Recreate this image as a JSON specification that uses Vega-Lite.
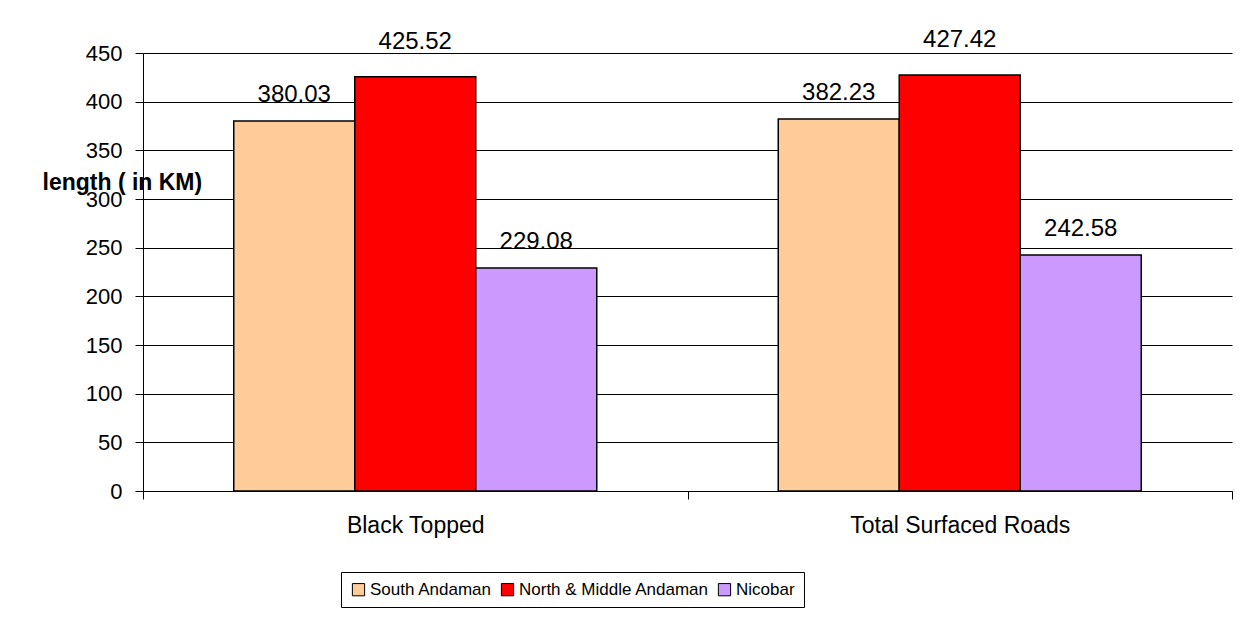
{
  "$schema": "https://vega.github.io/schema/vega-lite/v6.json",
  "width": 1089,
  "height": 438,
  "autosize": "none",
  "padding": {"left": 143, "top": 53, "right": 23, "bottom": 130},
  "background": "white",
  "config": {
    "font": "Liberation Sans",
    "view": {"stroke": null}
  },
  "data": {
    "values": [
      {"category": "Black Topped", "region": "South Andaman", "value": 380.03},
      {"category": "Black Topped", "region": "North & Middle Andaman", "value": 425.52},
      {"category": "Black Topped", "region": "Nicobar", "value": 229.08},
      {"category": "Total Surfaced Roads", "region": "South Andaman", "value": 382.23},
      {"category": "Total Surfaced Roads", "region": "North & Middle Andaman", "value": 427.42},
      {"category": "Total Surfaced Roads", "region": "Nicobar", "value": 242.58}
    ]
  },
  "encoding": {
    "x": {
      "field": "category",
      "type": "nominal",
      "sort": null,
      "scale": {"paddingInner": 0, "paddingOuter": 0},
      "axis": {
        "title": null,
        "labelAngle": 0,
        "labelLimit": 0,
        "tickBand": "extent",
        "domainColor": "black",
        "tickColor": "black",
        "tickSize": 8,
        "labelFontSize": 23,
        "labelColor": "black",
        "labelPadding": 15
      }
    },
    "xOffset": {
      "field": "region",
      "type": "nominal",
      "sort": ["South Andaman", "North & Middle Andaman", "Nicobar"],
      "scale": {"paddingOuter": 0.75, "paddingInner": 0}
    },
    "y": {
      "field": "value",
      "type": "quantitative",
      "scale": {"domain": [0, 450]},
      "axis": {
        "values": [0, 50, 100, 150, 200, 250, 300, 350, 400, 450],
        "title": "length ( in KM)",
        "titleAngle": 0,
        "titleFontWeight": "bold",
        "titleFontSize": 23,
        "titleAlign": "left",
        "titleBaseline": "alphabetic",
        "titleX": -101,
        "titleY": 136,
        "titleColor": "black",
        "grid": true,
        "gridColor": "black",
        "gridOpacity": 1,
        "domainColor": "black",
        "tickColor": "black",
        "tickSize": 8,
        "labelFontSize": 22,
        "labelColor": "black",
        "labelPadding": 13
      }
    }
  },
  "layer": [
    {
      "mark": {"type": "bar", "stroke": "black", "strokeWidth": 1.5},
      "encoding": {
        "color": {
          "field": "region",
          "type": "nominal",
          "scale": {
            "domain": ["South Andaman", "North & Middle Andaman", "Nicobar"],
            "range": ["#FFCC99", "#FF0000", "#CC99FF"]
          },
          "legend": {
            "title": null,
            "orient": "none",
            "direction": "horizontal",
            "legendX": 198,
            "legendY": 519,
            "strokeColor": "black",
            "padding": 9,
            "symbolType": "square",
            "symbolSize": 150,
            "symbolStrokeColor": "black",
            "symbolStrokeWidth": 1,
            "symbolOpacity": 1,
            "labelFontSize": 17,
            "labelLimit": 0,
            "labelColor": "black",
            "columnPadding": 7,
            "labelOffset": 3
          }
        }
      }
    },
    {
      "transform": [{"filter": "datum.region !== 'North & Middle Andaman'"}],
      "mark": {"type": "text", "fontSize": 24, "baseline": "alphabetic", "dy": -19, "color": "black"},
      "encoding": {"text": {"field": "value", "type": "quantitative", "format": ".2f"}}
    },
    {
      "transform": [{"filter": "datum.region === 'North & Middle Andaman'"}],
      "mark": {"type": "text", "fontSize": 24, "baseline": "alphabetic", "dy": -28, "color": "black"},
      "encoding": {"text": {"field": "value", "type": "quantitative", "format": ".2f"}}
    }
  ]
}
